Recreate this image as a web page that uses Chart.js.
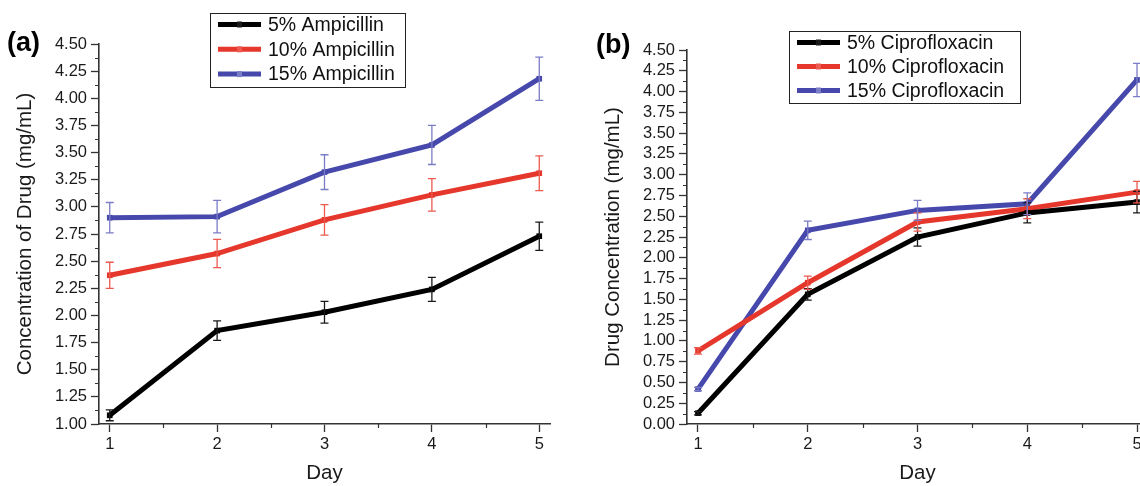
<!DOCTYPE html>
<html>
<head>
<meta charset="utf-8">
<script src="https://cdn.jsdelivr.net/npm/chart.js@4.4.0/dist/chart.umd.min.js"></script>
<style>
    html, body { margin: 0; padding: 0; background: #fff; overflow: hidden; width: 1140px; height: 486px; }
    .panel { position: absolute; top: 0; }
    #wrapA { left: 0; }
    #wrapB { left: 570px; }
</style>
</head>
<body>
<div class="panel" id="wrapA"><canvas id="chartA" width="570" height="486"></canvas></div>
<div class="panel" id="wrapB"><canvas id="chartB" width="600" height="486"></canvas></div>
<script>
// days on the x axis
const days = [1, 2, 3, 4, 5];
const dayTicks = [1, 2, 3, 4, 5];

// y tick labels
const ampTicks = [1.00, 1.25, 1.50, 1.75, 2.00, 2.25, 2.50, 2.75, 3.00, 3.25, 3.50, 3.75, 4.00, 4.25, 4.50];
const cipTicks = [0.00, 0.25, 0.50, 0.75, 1.00, 1.25, 1.50, 1.75, 2.00, 2.25, 2.50, 2.75, 3.00, 3.25, 3.50, 3.75, 4.00, 4.25, 4.50];

// (a) Ampicillin
const ampLabels = ['5% Ampicillin', '10% Ampicillin', '15% Ampicillin'];
const amp5 = [1.08, 1.86, 2.03, 2.24, 2.73];
const amp10 = [2.37, 2.57, 2.88, 3.11, 3.31];
const amp15 = [2.90, 2.91, 3.32, 3.57, 4.18];
const amp5Err = [0.05, 0.09, 0.10, 0.11, 0.13];
const amp10Err = [0.12, 0.13, 0.14, 0.15, 0.16];
const amp15Err = [0.14, 0.15, 0.16, 0.18, 0.20];

// (b) Ciprofloxacin
const cipLabels = ['5% Ciprofloxacin', '10% Ciprofloxacin', '15% Ciprofloxacin'];
const cip5 = [0.13, 1.56, 2.25, 2.54, 2.67];
const cip10 = [0.88, 1.70, 2.43, 2.59, 2.79];
const cip15 = [0.42, 2.33, 2.57, 2.65, 4.14];
const cip5Err = [0.02, 0.07, 0.11, 0.12, 0.13];
const cip10Err = [0.04, 0.08, 0.11, 0.12, 0.13];
const cip15Err = [0.02, 0.11, 0.12, 0.13, 0.20];

const FONT = "'Liberation Sans', Arial, sans-serif";
const colors = ['#000000', '#e5372b', '#4648ac'];
const errColors = ['#1a1a1a', '#ec5a50', '#7b7cc6'];

function makeDataset(label, values, errors, i) {
    return {
        label: label,
        data: days.map((d, k) => ({ x: d, y: values[k] })),
        errors: errors,
        errColor: errColors[i],
        borderColor: colors[i],
        backgroundColor: colors[i],
        pointBackgroundColor: colors[i],
        pointBorderWidth: 0,
        pointStyle: 'rect',
        pointRadius: 4,
        borderWidth: 5,
        tension: 0
    };
}

// error bars, minor ticks, legend box and panel letter
const extrasPlugin = {
    id: 'extras',
    afterDatasetsDraw(chart, args, opts) {
        const ctx = chart.ctx;
        const xs = chart.scales.x, ys = chart.scales.y;
        ctx.save();
        chart.data.datasets.forEach(ds => {
            ctx.strokeStyle = ds.errColor;
            ctx.lineWidth = 1.3;
            ds.data.forEach((p, k) => {
                const px = xs.getPixelForValue(p.x);
                const top = ys.getPixelForValue(p.y + ds.errors[k]);
                const bot = ys.getPixelForValue(p.y - ds.errors[k]);
                ctx.beginPath();
                ctx.moveTo(px, top); ctx.lineTo(px, bot);
                ctx.moveTo(px - 4, top); ctx.lineTo(px + 4, top);
                ctx.moveTo(px - 4, bot); ctx.lineTo(px + 4, bot);
                ctx.stroke();
            });
        });
        ctx.restore();
    },
    afterDraw(chart, args, opts) {
        const ctx = chart.ctx;
        const xs = chart.scales.x, ys = chart.scales.y;
        const area = chart.chartArea;
        ctx.save();

        // minor ticks halfway between major ticks
        ctx.strokeStyle = '#333';
        ctx.lineWidth = 1.2;
        ctx.beginPath();
        for (let i = 0; i < dayTicks.length - 1; i++) {
            const px = Math.round(xs.getPixelForValue((dayTicks[i] + dayTicks[i + 1]) / 2)) + 0.5;
            ctx.moveTo(px, area.bottom); ctx.lineTo(px, area.bottom + 4);
        }
        const yt = opts.yTicks;
        for (let i = 0; i < yt.length - 1; i++) {
            const py = Math.round(ys.getPixelForValue((yt[i] + yt[i + 1]) / 2)) + 0.5;
            ctx.moveTo(area.left, py); ctx.lineTo(area.left - 4, py);
        }
        ctx.stroke();

        // legend
        const lg = opts.legend;
        ctx.fillStyle = '#fff';
        ctx.fillRect(lg.left, lg.top, lg.width, lg.height);
        ctx.strokeStyle = '#222';
        ctx.lineWidth = 1;
        ctx.strokeRect(lg.left + 0.5, lg.top + 0.5, lg.width, lg.height);
        chart.data.datasets.forEach((ds, i) => {
            const y = lg.top + lg.firstRow + i * lg.rowGap;
            ctx.strokeStyle = ds.borderColor;
            ctx.lineWidth = 5;
            ctx.beginPath();
            ctx.moveTo(lg.left + 8, y);
            ctx.lineTo(lg.left + 51, y);
            ctx.stroke();
            ctx.fillStyle = ds.errColor;
            ctx.fillRect(lg.left + 27, y - 3, 5, 6);
            ctx.fillStyle = '#111';
            ctx.font = '19.5px ' + FONT;
            ctx.textBaseline = 'middle';
            ctx.textAlign = 'left';
            ctx.fillText(ds.label, lg.left + 58, y + 1);
        });

        // panel letter
        ctx.fillStyle = '#000';
        ctx.font = 'bold 27px ' + FONT;
        ctx.textBaseline = 'middle';
        ctx.textAlign = 'left';
        ctx.fillText(opts.letter.text, opts.letter.x, opts.letter.y);
        ctx.restore();
    }
};

function makeChart(canvasId, labels, series, errors, yTicks, yTitle, geom) {
    const ctx = document.getElementById(canvasId).getContext('2d');
    return new Chart(ctx, {
        type: 'line',
        data: {
            datasets: series.map((s, i) => makeDataset(labels[i], s, errors[i], i))
        },
        options: {
            responsive: false,
            animation: false,
            layout: { padding: geom.padding },
            plugins: {
                legend: { display: false },
                tooltip: { enabled: false },
                extras: { yTicks: yTicks, legend: geom.legend, letter: geom.letter }
            },
            scales: {
                x: {
                    type: 'linear',
                    min: 0.9,
                    max: 5.1,
                    afterBuildTicks: s => { s.ticks = dayTicks.map(v => ({ value: v })); },
                    afterFit: s => { s.height = geom.xHeight; },
                    grid: { drawOnChartArea: false, drawTicks: true, tickLength: 8, tickColor: '#333', tickWidth: 1.3 },
                    border: { display: true, color: '#333', width: 1.6 },
                    ticks: { font: { family: FONT, size: 16.5 }, color: '#1a1a1a', padding: 3, maxRotation: 0, autoSkip: false },
                    title: { display: true, text: 'Day', font: { family: FONT, size: 20.5 }, color: '#1a1a1a', padding: { top: 0, bottom: 0 } }
                },
                y: {
                    type: 'linear',
                    min: yTicks[0],
                    max: yTicks[yTicks.length - 1],
                    afterBuildTicks: s => { s.ticks = yTicks.map(v => ({ value: v })); },
                    afterFit: s => { s.width = geom.yWidth; },
                    grid: { drawOnChartArea: false, drawTicks: true, tickLength: 8, tickColor: '#333', tickWidth: 1.3 },
                    border: { display: true, color: '#333', width: 1.6 },
                    ticks: {
                        font: { family: FONT, size: 16.5 },
                        color: '#1a1a1a',
                        padding: 4,
                        autoSkip: false,
                        callback: v => Number(v).toFixed(2)
                    },
                    title: { display: true, text: yTitle, font: { family: FONT, size: 20.5 }, color: '#1a1a1a', padding: { top: geom.yTitlePad, bottom: 0 } }
                }
            }
        },
        plugins: [extrasPlugin]
    });
}

makeChart('chartA', ampLabels, [amp5, amp10, amp15], [amp5Err, amp10Err, amp15Err], ampTicks,
    'Concentration of Drug (mg/mL)', {
        padding: { left: 0, top: 44, right: 20, bottom: 0 },
        xHeight: 62,
        yWidth: 99,
        yTitlePad: 13,
        legend: { left: 210, top: 13, width: 195, height: 74, firstRow: 11.5, rowGap: 24.8 },
        letter: { text: '(a)', x: 7, y: 44 }
    });

makeChart('chartB', cipLabels, [cip5, cip10, cip15], [cip5Err, cip10Err, cip15Err], cipTicks,
    'Drug Concentration (mg/mL)', {
        padding: { left: 0, top: 50, right: 22, bottom: 0 },
        xHeight: 62,
        yWidth: 117,
        yTitlePad: 31,
        legend: { left: 219, top: 31, width: 231, height: 72, firstRow: 11.5, rowGap: 24 },
        letter: { text: '(b)', x: 26, y: 46 }
    });
</script>
</body>
</html>
